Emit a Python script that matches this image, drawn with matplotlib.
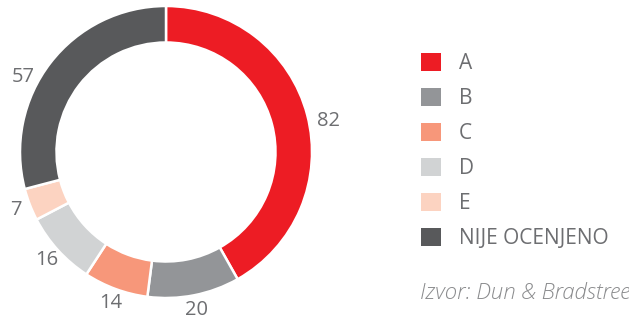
import numpy as np
import matplotlib
matplotlib.use("Agg")
import matplotlib.pyplot as plt
from matplotlib.patches import Patch

plt.rcParams['font.family'] = ['Open Sans', 'DejaVu Sans']

# podaci
kategorije = ['A', 'B', 'C', 'D', 'E', 'NIJE OCENJENO']
vrednosti = [82, 20, 14, 16, 7, 57]
boje = ['#ED1C24', '#939598', '#F7977A', '#D1D3D4', '#FCD3C1', '#58595B']
tekst_boja = '#6D6E71'

fig = plt.figure(figsize=(6.29, 3.17), dpi=100)
ax = fig.add_axes([20 / 629, 19 / 317, 292 / 629, 292 / 317])

wedges, texts = ax.pie(vrednosti, labels=[str(v) for v in vrednosti], colors=boje,
                       startangle=90, counterclock=False, radius=1.0,
                       labeldistance=1.1,
                       wedgeprops=dict(width=0.25, edgecolor='white', linewidth=1.8),
                       textprops=dict(color=tekst_boja, fontsize=14.5))
for t in texts:
    t.set_ha('center')
    t.set_va('center')

# oznake za prvi i poslednji segment su u originalu malo pomerene
for t, pomak, r_faktor in ((texts[0], -4, 1.03), (texts[-1], 10, 1.0)):
    x, y = t.get_position()
    ugao = np.arctan2(y, x) + np.radians(pomak)
    r = np.hypot(x, y) * r_faktor
    t.set_position((r * np.cos(ugao), r * np.sin(ugao)))

ax.set_aspect('equal')
ax.set_xlim(-1, 1)
ax.set_ylim(-1, 1)
ax.axis('off')

handles = [Patch(facecolor=c, edgecolor='none') for c in boje]
leg = fig.legend(handles, kategorije, loc='upper left',
                 bbox_to_anchor=(421 / 629, 1 - 53 / 317),
                 frameon=False, fontsize=15, handlelength=0.96, handleheight=0.96,
                 handletextpad=0.87, labelspacing=0.66, borderpad=0, borderaxespad=0)
for t in leg.get_texts():
    t.set_color(tekst_boja)

fig.text(420 / 629, 1 - 293 / 317, 'Izvor: Dun & Bradstreet', color='#8A8B8D',
         fontsize=16, style='italic', fontweight='light', va='center', ha='left')

fig.savefig('out.png', dpi=100)
